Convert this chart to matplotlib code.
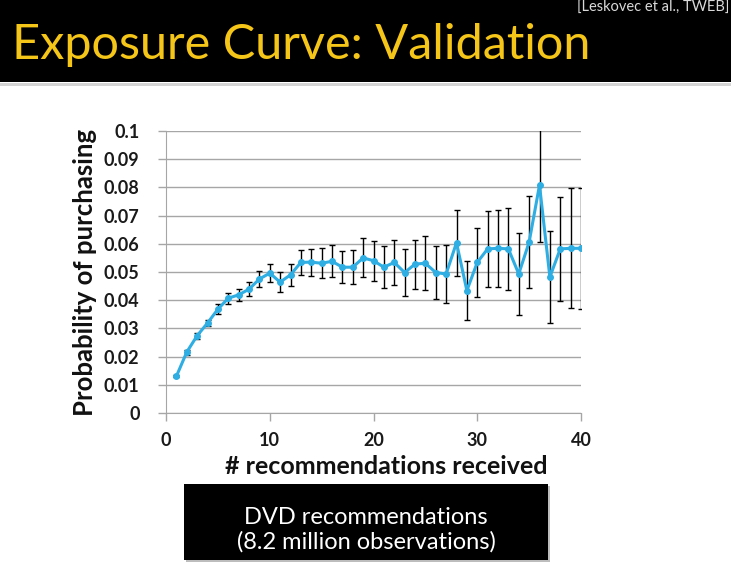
import matplotlib
matplotlib.use("Agg")
import matplotlib.pyplot as plt
from matplotlib.patches import Rectangle

# number of recommendations received
recs = list(range(1, 41))

# probability of purchasing
prob = [0.0130, 0.0216, 0.0274, 0.0319, 0.0368, 0.0407, 0.0419, 0.0439, 0.0475, 0.0496,
        0.0464, 0.0490, 0.0534, 0.0535, 0.0531, 0.0538, 0.0517, 0.0517, 0.0550, 0.0540,
        0.0517, 0.0534, 0.0498, 0.0528, 0.0531, 0.0498, 0.0493, 0.0604, 0.0434, 0.0534,
        0.0582, 0.0584, 0.0582, 0.0493, 0.0606, 0.0808, 0.0482, 0.0582, 0.0584, 0.0584]

# error bar half-widths
err = [0.0004, 0.0009, 0.0010, 0.0012, 0.0018, 0.0019, 0.0021, 0.0024, 0.0028, 0.0032,
       0.0035, 0.0040, 0.0044, 0.0048, 0.0053, 0.0057, 0.0057, 0.0061, 0.0069, 0.0071,
       0.0075, 0.0080, 0.0082, 0.0087, 0.0096, 0.0094, 0.0102, 0.0117, 0.0104, 0.0122,
       0.0135, 0.0137, 0.0145, 0.0144, 0.0164, 0.0202, 0.0164, 0.0184, 0.0213, 0.0215]

xticks = [0, 10, 20, 30, 40]
yticks = [0, 0.01, 0.02, 0.03, 0.04, 0.05, 0.06, 0.07, 0.08, 0.09, 0.1]
ytick_labels = ["0", "0.01", "0.02", "0.03", "0.04", "0.05", "0.06", "0.07", "0.08", "0.09", "0.1"]

W, H = 731, 573
FONT = ["Lato", "DejaVu Sans"]

fig = plt.figure(figsize=(W / 100, H / 100), dpi=100)
fig.patch.set_facecolor("white")

# slide header
fig.patches.append(Rectangle((0, 1 - 82 / H), 1, 82 / H, transform=fig.transFigure,
                             facecolor="black", edgecolor="none", zorder=0))
fig.patches.append(Rectangle((0, 1 - 86 / H), 1, 3 / H, transform=fig.transFigure,
                             facecolor="#d4d4d4", edgecolor="none", zorder=0))
fig.text(12 / W, 1 - 45 / H, "Exposure Curve: Validation", color="#f5c518",
         fontsize=35, family=FONT, ha="left", va="center")
fig.text((W - 2) / W, 1 - 8 / H, "[Leskovec et al., TWEB]", color="#d9d9d9",
         fontsize=10.5, family=FONT, ha="right", va="center")

# chart
ax = fig.add_axes([166 / W, 1 - 413 / H, 415 / W, 282 / H])
ax.errorbar(recs, prob, yerr=err, fmt="none", ecolor="black", elinewidth=1,
            capsize=2.5, capthick=1, zorder=3)
ax.plot(recs, prob, color="#2eaee3", lw=2.2, marker="o", markersize=4, zorder=4)

ax.set_xlim(0, 40)
ax.set_ylim(0, 0.1)
ax.set_xticks(xticks)
ax.set_yticks(yticks)
ax.set_yticklabels(ytick_labels)
ax.yaxis.grid(True, color="#a6a6a6", lw=1)
ax.set_axisbelow(True)
for s in ["top", "right"]:
    ax.spines[s].set_visible(False)
for s in ["left", "bottom"]:
    ax.spines[s].set_color("#a6a6a6")
ax.tick_params(axis="both", colors="#a6a6a6", length=6, width=1, labelcolor="#1a1a1a",
               labelsize=13)
ax.tick_params(axis="y", pad=13)
ax.tick_params(axis="x", pad=8)
for lab in ax.get_xticklabels() + ax.get_yticklabels():
    lab.set_family(FONT)
    lab.set_fontweight("bold")

ax.set_xlabel("# recommendations received", fontsize=18, family=FONT, fontweight="bold",
              color="#111111", labelpad=0)
ax.xaxis.set_label_coords(0.53, -0.15)
ax.set_ylabel("Probability of purchasing", fontsize=18.5, family=FONT, fontweight="bold",
              color="#111111")
ax.yaxis.set_label_coords(-0.166, 0.5)

# caption box with a soft shadow
fig.patches.append(Rectangle(((184 + 2) / W, 1 - (560 + 2) / H), 364 / W, 76 / H,
                             transform=fig.transFigure, facecolor="#bdbdbd",
                             edgecolor="none", zorder=0))
fig.patches.append(Rectangle((184 / W, 1 - 560 / H), 364 / W, 76 / H,
                             transform=fig.transFigure, facecolor="black",
                             edgecolor="none", zorder=1))
fig.text(366 / W, 1 - 517 / H, "DVD recommendations", color="white", fontsize=17,
         family=FONT, ha="center", va="center")
fig.text(366 / W, 1 - 542 / H, "(8.2 million observations)", color="white", fontsize=17,
         family=FONT, ha="center", va="center")

fig.savefig("out.png", dpi=100)
